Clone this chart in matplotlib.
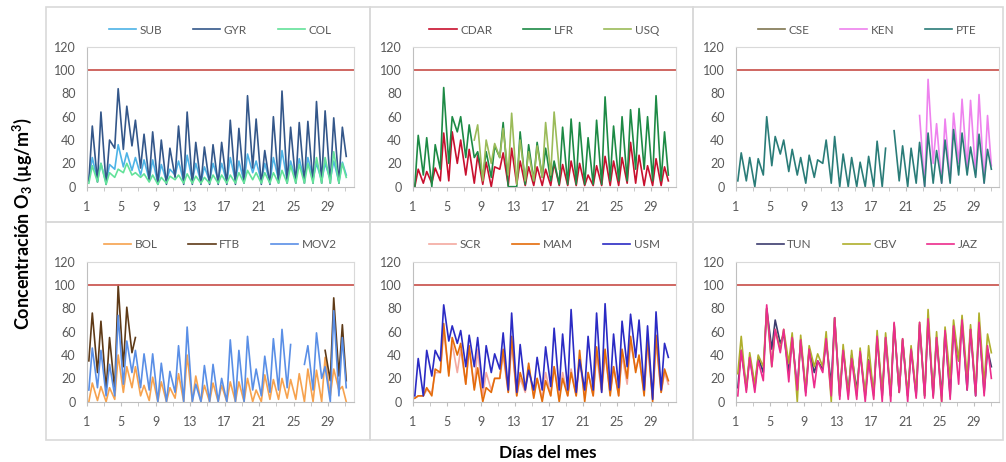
import numpy as np
import matplotlib
matplotlib.use("Agg")
import matplotlib.pyplot as plt
from matplotlib.patches import Rectangle

plt.rcParams['font.family'] = ['Lato', 'DejaVu Sans']
plt.rcParams['mathtext.fontset'] = 'custom'
plt.rcParams['mathtext.rm'] = 'Lato:bold'
plt.rcParams['mathtext.it'] = 'Lato:bold:italic'
plt.rcParams['mathtext.bf'] = 'Lato:bold'

na = np.nan

# daily ozone: morning minimum (31 values, last one is the closing value)
# and afternoon maximum (30 values), ug/m3
sub_lo = [6, 5, 3, 15, 17, 14, 10, 6, 3, 5, 10, 4, 5, 4, 5, 6, 4, 5, 4, 12, 5, 4, 6, 5, 6, 5, 7, 5, 6, 4, 10]
sub_hi = [25, 20, 19, 36, 29, 25, 23, 23, 19, 15, 22, 27, 20, 17, 20, 20, 25, 22, 28, 22, 20, 25, 31, 22, 24, 25, 20, 20, 22, 21]
gyr_lo = [5, 4, 2, 33, 32, 35, 16, 5, 2, 2, 8, 2, 2, 2, 2, 2, 2, 2, 3, 16, 2, 2, 3, 3, 3, 3, 3, 3, 3, 3, 26]
gyr_hi = [52, 64, 40, 84, 69, 57, 45, 47, 40, 33, 52, 64, 38, 34, 36, 38, 57, 50, 78, 58, 31, 60, 82, 51, 55, 56, 73, 65, 59, 51]
col_lo = [3, 4, 2, 8, 12, 10, 8, 4, 2, 3, 6, 3, 3, 3, 3, 3, 3, 3, 3, 6, 3, 3, 3, 3, 3, 3, 3, 3, 3, 3, 8]
col_hi = [18, 20, 12, 15, 20, 12, 11, 10, 8, 9, 10, 11, 9, 8, 10, 10, 10, 12, 14, 12, 12, 12, 14, 18, 19, 20, 25, 25, 30, 20]

cdar_lo = [0, 3, 3, 5, 5, 20, 10, 3, 2, 0, 15, 1, 2, 1, 1, 1, 1, 1, 1, 1, 1, 1, 1, 1, 1, 3, 3, 1, 1, 1, 5]
cdar_hi = [15, 13, 16, 46, 47, 40, 32, 27, 21, 17, 29, 33, 22, 17, 17, 15, 20, 19, 22, 20, 10, 18, 26, 22, 25, 38, 27, 18, 24, 17]
lfr_lo = [0, 10, 0, 15, 20, 47, 25, 25, 8, 8, 25, 0, 0, 2, 5, 8, 5, 2, 2, 2, 2, 2, 2, 5, 5, 5, 15, 15, 5, 5, 10]
lfr_hi = [44, 42, 36, 85, 60, 60, 53, 30, 30, 35, 55, 0, 47, 36, 38, 33, 22, 51, 58, 55, 42, 57, 77, 52, 60, 66, 67, 60, 78, 47]
usq_lo = [na, na, na, na, na, na, na, 40, 5, 20, 25, 10, 2, 5, 5, 8, 10, 15,
          na, na, na, na, na, na, na, na, na, na, na, na, na]
usq_hi = [na, na, na, na, na, na, na, 53, 40, 37, 50, 63, 40, 30, 35, 55, 64,
          na, na, na, na, na, na, na, na, na, na, na, na, na]

pte_lo = [5, 5, 0, 10, 18, 28, 13, 10, 3, 8, 20, 3, 0, 0, 0, 0, 0, 0, na, 5, 0, 3, 0, 3, 3, 3, 10, 10, 8, 3, 15]
pte_hi = [29, 25, 24, 60, 43, 40, 32, 25, 27, 23, 40, 43, 28, 25, 21, 26, 39, 33, 48, 35, 33, 38, 46, 31, 40, 49, 46, 34, 45, 32]
ken_lo = [na, na, na, na, na, na, na, na, na, na, na, na, na, na, na, na, na, na, na, na, na, na,
          0, 20, 3, 5, 20, 15, 10, 3, 18]
ken_hi = [na, na, na, na, na, na, na, na, na, na, na, na, na, na, na, na, na, na, na, na, na,
          61, 92, 54, 58, 63, 75, 74, 79, 61]
cse_lo = []
cse_hi = []

bol_lo = [0, 1, 0, 2, 8, 12, 5, 1, 0, 0, 3, 0, 0, 0, 0, 0, 0, 0, 0, 0, 0, 2, 2, 3, 2, 0, 0, 0, 5, 10, 0]
bol_hi = [16, 13, 12, 40, 30, 30, 14, 21, 17, 12, 24, 40, 22, 14, 16, 14, 17, 17, 20, 10, 23, 19, 20, 19, 24, 28, 27, 38, 28, 13]
ftb_lo = [35, 25, 10, 10, 30, 42, na, na, na, na, na, na, na, na, na, na, na, na, na, na, na, na, na, na, na, na, na, na,
          18, 22, 18]
ftb_hi = [76, 69, 55, 100, 81, 55, na, na, na, na, na, na, na, na, na, na, na, na, na, na, na, na, na, na, na, na, na,
          44, 89, 66]
mov2_lo = [10, 12, 5, 5, 15, 25, 12, 10, 0, 0, 8, 0, 0, 0, 0, 0, 0, 0, 0, 10, 5, 8, 10, 12, na, 32, 10, 20, 0, 5, 12]
mov2_hi = [46, 44, 32, 74, 52, 44, 41, 41, 33, 26, 48, 64, 15, 31, 32, 20, 53, 44, 56, 28, 39, 54, 62, 49, na, 48, 59, 30, 78, 55]

scr_lo = [3, 5, 8, 25, 25, 25, 15, 12, 5, 10, 20, 8, 5, 8, 5, 3, 5, 5, 5, 5, 5, 5, 8, 8, 5, 15, 28, 8, 3, 8, 15]
scr_hi = [5, 10, 25, 60, 50, 45, 45, 45, 25, 20, 40, 50, 20, 30, 20, 25, 30, 25, 28, 35, 25, 40, 40, 30, 40, 50, 38, 50, 50, 25]
mam_lo = [3, 5, 5, 25, 22, 40, 15, 10, 0, 8, 20, 8, 5, 10, 3, 0, 5, 0, 5, 5, 0, 5, 10, 5, 5, 20, 25, 5, 0, 8, 18]
mam_hi = [5, 12, 28, 67, 55, 50, 48, 29, 12, 20, 45, 56, 25, 33, 20, 18, 30, 20, 25, 44, 25, 47, 45, 30, 45, 56, 40, 55, 57, 28]
usm_lo = [5, 5, 22, 35, 52, 50, 30, 30, 12, 25, 28, 10, 8, 10, 10, 10, 13, 10, 10, 8, 10, 10, 8, 10, 12, 30, 38, 10, 2, 10, 38]
usm_hi = [37, 44, 44, 83, 65, 61, 57, 55, 48, 41, 59, 76, 49, 27, 38, 47, 63, 58, 79, 36, 56, 76, 84, 58, 69, 75, 70, 65, 77, 50]

tun_lo = [12, 12, 12, 25, 45, 50, 25, 10, 8, 25, 28, 15, 5, 8, 10, 5, 8, 5, 5, 8, 5, 5, 5, 5, 5, 5, 35, 10, 5, 8, 30]
tun_hi = [44, 38, 38, 80, 70, 58, 55, 53, 45, 35, 52, 72, 45, 40, 42, 36, 55, 55, 66, 53, 45, 66, 70, 55, 60, 63, 68, 62, 66, 45]
cbv_lo = [24, 10, 15, 30, 30, 45, 33, 0, 10, 30, 30, 0, 5, 5, 5, 5, 5, 5, 5, 8, 5, 8, 5, 5, 0, 20, 35, 20, 8, 15, 42]
cbv_hi = [56, 42, 40, 80, 62, 62, 59, 57, 48, 41, 60, 72, 49, 44, 46, 48, 61, 59, 67, 54, 48, 68, 79, 60, 64, 70, 74, 66, 76, 58]
jaz_lo = [5, 8, 8, 18, 30, 42, 17, 10, 5, 12, 25, 5, 2, 2, 2, 0, 2, 0, 0, 8, 0, 3, 3, 3, 0, 2, 15, 10, 5, 5, 20]
jaz_hi = [44, 38, 35, 83, 62, 62, 55, 53, 45, 35, 54, 72, 44, 37, 43, 35, 56, 55, 68, 54, 45, 68, 71, 55, 61, 65, 70, 62, 68, 48]

limite = 100
x_ticks = [1, 5, 9, 13, 17, 21, 25, 29]
y_ticks = [0, 20, 40, 60, 80, 100, 120]

paneles = [
    [("SUB", sub_lo, sub_hi, "#4DB3E6"), ("GYR", gyr_lo, gyr_hi, "#34578A"), ("COL", col_lo, col_hi, "#63E29A")],
    [("CDAR", cdar_lo, cdar_hi, "#C8102E"), ("LFR", lfr_lo, lfr_hi, "#1D8A45"), ("USQ", usq_lo, usq_hi, "#9BBB59")],
    [("CSE", cse_lo, cse_hi, "#7F7550"), ("KEN", ken_lo, ken_hi, "#EE82EE"), ("PTE", pte_lo, pte_hi, "#2A7C78")],
    [("BOL", bol_lo, bol_hi, "#F6A24E"), ("FTB", ftb_lo, ftb_hi, "#5E3A17"), ("MOV2", mov2_lo, mov2_hi, "#5A8FE6")],
    [("SCR", scr_lo, scr_hi, "#F4A9A0"), ("MAM", mam_lo, mam_hi, "#E46C0A"), ("USM", usm_lo, usm_hi, "#2B2BC4")],
    [("TUN", tun_lo, tun_hi, "#3C3C6E"), ("CBV", cbv_lo, cbv_hi, "#AFAF2C"), ("JAZ", jaz_lo, jaz_hi, "#EC2C8C")],
]


def hourly_path(lo, hi):
    # minimum around 6 h, maximum around 15 h of each day
    if len(lo) == 0:
        return [], []
    days = np.arange(1, len(hi) + 1)
    x_lo = np.append(days + 0.25, 31.1)
    x_hi = days + 0.65
    x = np.empty(len(lo) + len(hi))
    y = np.empty(len(lo) + len(hi))
    x[0::2] = x_lo
    x[1::2] = x_hi
    y[0::2] = lo
    y[1::2] = hi
    return x, y


W, H = 1006, 462
fig = plt.figure(figsize=(W / 100, H / 100), dpi=100)

# panel frames
cells_x = [(46, 370), (370, 693), (693, 1003)]
cells_y = [(7, 222), (222, 440)]
for (y0, y1) in cells_y:
    for (x0, x1) in cells_x:
        fig.add_artist(Rectangle((x0 / W, 1 - y1 / H), (x1 - x0) / W, (y1 - y0) / H,
                                 transform=fig.transFigure, fill=False,
                                 ec="#D9D9D9", lw=1.2))

axes_x = [(86.7, 354), (412.7, 676), (735.7, 999)]
axes_y = [(46.7, 186.7), (261.7, 401.7)]
gray = "#595959"

for i, series in enumerate(paneles):
    l, r = axes_x[i % 3]
    t, b = axes_y[i // 3]
    ax = fig.add_axes([l / W, 1 - b / H, (r - l) / W, (b - t) / H])
    for name, lo, hi, color in series:
        x, y = hourly_path(lo, hi)
        ax.plot(x, y, color=color, lw=1.2, label=name, solid_joinstyle="round")
    ax.axhline(limite, color="#CC5A55", lw=1.3)
    ax.set_xlim(1, 32)
    ax.set_ylim(0, 120)
    ax.set_xticks(x_ticks)
    ax.set_xticks(range(1, 33, 2), minor=True)
    ax.set_yticks(y_ticks)
    ax.tick_params(axis="x", which="both", length=3, color="#BFBFBF", pad=7,
                   labelsize=9, labelcolor=gray)
    ax.tick_params(axis="y", length=0, pad=8, labelsize=9, labelcolor=gray)
    for side in ["top", "right"]:
        ax.spines[side].set_color("#D9D9D9")
    for side in ["left", "bottom"]:
        ax.spines[side].set_color("#BFBFBF")
    ax.legend(loc="center", bbox_to_anchor=(0.5, 1 + 16.7 / 140), ncol=3,
              frameon=False, fontsize=8.5, handlelength=2.3, handletextpad=0.3,
              columnspacing=2.6, labelcolor=gray)

fig.text(0.022, 0.515, r"Concentración O$_3$ (µg/m$^3$)", rotation=90,
         ha="center", va="center", fontsize=13, fontweight="bold")
fig.text(0.544, 0.02, "Días del mes", ha="center", va="center",
         fontsize=12.5, fontweight="bold")

fig.savefig("out.png", dpi=100)
